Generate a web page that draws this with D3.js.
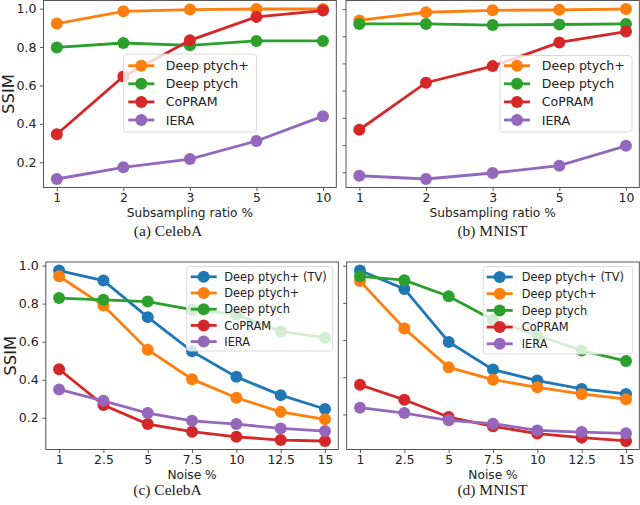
<!doctype html>
<html>
<head>
<meta charset="UTF-8">
<title>SSIM panels</title>
<script src="https://d3js.org/d3.v7.min.js"></script>
<style>
  body { margin: 0; background: #fff; }
  text { font-family: "DejaVu Sans", sans-serif; fill: #222; }
  .cap { font-family: "Liberation Serif", serif; }
</style>
</head>
<body>
<svg id="fig" width="640" height="505"></svg>
<script>
// x categories
var subsampleTicks = ["1", "2", "3", "5", "10"];
var noiseTicks = ["1", "2.5", "5", "7.5", "10", "12.5", "15"];

var topNames = ["Deep ptych+", "Deep ptych", "CoPRAM", "IERA"];
var bottomNames = ["Deep ptych+ (TV)", "Deep ptych+", "Deep ptych", "CoPRAM", "IERA"];
var topColors = ["#ff7f0e", "#2ca02c", "#d62728", "#9467bd"];
var bottomColors = ["#1f77b4", "#ff7f0e", "#2ca02c", "#d62728", "#9467bd"];

// (a) CelebA, subsampling
var aDeepPlus = [0.922, 0.986, 0.995, 0.998, 0.998];
var aDeep     = [0.798, 0.821, 0.809, 0.832, 0.832];
var aCopram   = [0.346, 0.647, 0.835, 0.957, 0.990];
var aIera     = [0.113, 0.174, 0.217, 0.311, 0.440];

// (b) MNIST, subsampling
var bDeepPlus = [0.958, 0.988, 0.995, 0.997, 1.000];
var bDeep     = [0.945, 0.945, 0.941, 0.943, 0.945];
var bCopram   = [0.556, 0.729, 0.790, 0.877, 0.917];
var bIera     = [0.387, 0.375, 0.397, 0.424, 0.497];

// (c) CelebA, noise
var cDeepPlusTV = [0.974, 0.921, 0.729, 0.549, 0.415, 0.319, 0.246];
var cDeepPlus   = [0.944, 0.790, 0.558, 0.403, 0.305, 0.231, 0.192];
var cDeep       = [0.829, 0.820, 0.811, 0.768, 0.743, 0.654, 0.621];
var cCopram     = [0.455, 0.267, 0.167, 0.127, 0.100, 0.083, 0.078];
var cIera       = [0.349, 0.289, 0.225, 0.184, 0.167, 0.144, 0.130];

// (d) MNIST, noise
var dDeepPlusTV = [0.974, 0.875, 0.590, 0.441, 0.382, 0.337, 0.310];
var dDeepPlus   = [0.917, 0.662, 0.453, 0.387, 0.346, 0.310, 0.282];
var dDeep       = [0.943, 0.922, 0.836, 0.708, 0.626, 0.544, 0.487];
var dCopram     = [0.359, 0.279, 0.186, 0.136, 0.097, 0.075, 0.057];
var dIera       = [0.236, 0.207, 0.168, 0.150, 0.114, 0.105, 0.098];

var yTicks02 = [0.2, 0.4, 0.6, 0.8, 1.0];
var yTicks01 = [0.4, 0.5, 0.6, 0.7, 0.8, 0.9, 1.0];

var svg = d3.select("#fig");

var panels = [
  { box: [43.5, 336.3, 0.5, 187.5], cats: subsampleTicks, series: [aDeepPlus, aDeep, aCopram, aIera],
    names: topNames, colors: topColors, yticks: yTicks02, ylabels: true, xlabel: "Subsampling ratio %",
    caption: "(a) CelebA", capX: 168, capY: 236, ylabX: 14,
    legend: { x: 123.5, y: 54, w: 133, h: 78, row0: 65.7, step: 18.1, lx: 128.3, tx: 165.7, fs: 12.6 } },
  { box: [346, 639.3, 0.5, 187.5], cats: subsampleTicks, series: [bDeepPlus, bDeep, bCopram, bIera],
    names: topNames, colors: topColors, yticks: yTicks01, ylabels: false, xlabel: "Subsampling ratio %",
    caption: "(b) MNIST", capX: 492.5, capY: 236,
    legend: { x: 500, y: 55.5, w: 132, h: 76.5, row0: 65.7, step: 18.1, lx: 504, tx: 541.7, fs: 12.6 } },
  { box: [45.8, 338.3, 262, 449.5], cats: noiseTicks, series: [cDeepPlusTV, cDeepPlus, cDeep, cCopram, cIera],
    names: bottomNames, colors: bottomColors, yticks: yTicks02, ylabels: true, xlabel: "Noise %",
    caption: "(c) CelebA", capX: 167.5, capY: 495, ylabX: 16,
    legend: { x: 186.7, y: 266.5, w: 146, h: 84.5, row0: 276.8, step: 16.2, lx: 190.7, tx: 224.3, fs: 11.4 } },
  { box: [346.7, 639.3, 262, 449.5], cats: noiseTicks, series: [dDeepPlusTV, dDeepPlus, dDeep, dCopram, dIera],
    names: bottomNames, colors: bottomColors, yticks: yTicks02, ylabels: false, xlabel: "Noise %",
    caption: "(d) MNIST", capX: 492.5, capY: 495,
    legend: { x: 483.3, y: 266.5, w: 149.4, h: 87.5, row0: 277, step: 16.7, lx: 486.7, tx: 521.7, fs: 11.4 } }
];

panels.forEach(function (p) {
  var n = p.cats.length;
  var pad = 0.05 * (n - 1);
  var x = d3.scaleLinear().domain([-pad, n - 1 + pad]).range([p.box[0], p.box[1]]);
  var all = [].concat.apply([], p.series);
  var lo = d3.min(all), hi = d3.max(all), m = 0.05 * (hi - lo);
  var y = d3.scaleLinear().domain([lo - m, hi + m]).range([p.box[3], p.box[2]]);

  var g = svg.append("g");

  // x axis
  var xa = g.append("g").attr("transform", "translate(0," + p.box[3] + ")")
    .call(d3.axisBottom(x).tickValues(d3.range(n)).tickFormat(function (i) { return p.cats[i]; })
      .tickSize(3.5).tickPadding(2.5));
  xa.select(".domain").remove();
  xa.selectAll("line").attr("stroke", "#333").attr("stroke-width", 0.8);
  xa.selectAll("text").attr("font-size", 12.4).attr("fill", "#222")
    .attr("font-family", "DejaVu Sans");

  // y axis
  var ya = g.append("g").attr("transform", "translate(" + p.box[0] + ",0)")
    .call(d3.axisLeft(y).tickValues(p.yticks.filter(function (t) { return t >= y.domain()[0] && t <= y.domain()[1] + 0.002; }))
      .tickFormat(p.ylabels ? d3.format(".1f") : "")
      .tickSize(3.5).tickPadding(3.5));
  ya.select(".domain").remove();
  ya.selectAll("line").attr("stroke", "#333").attr("stroke-width", 0.8);
  ya.selectAll("text").attr("font-size", 12.6).attr("fill", "#222")
    .attr("font-family", "DejaVu Sans");

  // frame
  g.append("rect")
    .attr("x", p.box[0]).attr("y", p.box[2])
    .attr("width", p.box[1] - p.box[0]).attr("height", p.box[3] - p.box[2])
    .attr("fill", "none").attr("stroke", "#444").attr("stroke-width", 0.9);

  // lines + markers
  var line = d3.line().x(function (d, i) { return x(i); }).y(function (d) { return y(d); });
  p.series.forEach(function (s, k) {
    g.append("path").datum(s).attr("d", line)
      .attr("fill", "none").attr("stroke", p.colors[k]).attr("stroke-width", 2.8);
    g.selectAll(null).data(s).enter().append("circle")
      .attr("cx", function (d, i) { return x(i); })
      .attr("cy", function (d) { return y(d); })
      .attr("r", 6).attr("fill", p.colors[k]);
  });

  // labels
  g.append("text").attr("x", (p.box[0] + p.box[1]) / 2).attr("y", p.box[3] + 29.6)
    .attr("text-anchor", "middle").attr("font-size", 12.2).text(p.xlabel);
  if (p.ylabels) {
    g.append("text")
      .attr("transform", "translate(" + p.ylabX + "," + ((p.box[2] + p.box[3]) / 2) + ") rotate(-90)")
      .attr("text-anchor", "middle").attr("font-size", 16.5).text("SSIM");
  }
  g.append("text").attr("class", "cap").attr("x", p.capX).attr("y", p.capY)
    .attr("text-anchor", "middle").attr("font-size", 15.5).text(p.caption);

  // legend
  var L = p.legend;
  var lg = g.append("g");
  lg.append("rect").attr("x", L.x).attr("y", L.y).attr("width", L.w).attr("height", L.h)
    .attr("rx", 3).attr("fill", "#fff").attr("fill-opacity", 0.8)
    .attr("stroke", "#d6d6d6").attr("stroke-width", 0.9);
  p.names.forEach(function (name, k) {
    var ry = L.row0 + k * L.step;
    lg.append("line").attr("x1", L.lx).attr("x2", L.lx + 26).attr("y1", ry).attr("y2", ry)
      .attr("stroke", p.colors[k]).attr("stroke-width", 2.8);
    lg.append("circle").attr("cx", L.lx + 13).attr("cy", ry).attr("r", 6).attr("fill", p.colors[k]);
    lg.append("text").attr("x", L.tx).attr("y", ry).attr("dy", "0.36em")
      .attr("font-size", L.fs).text(name);
  });
});
</script>
</body>
</html>
